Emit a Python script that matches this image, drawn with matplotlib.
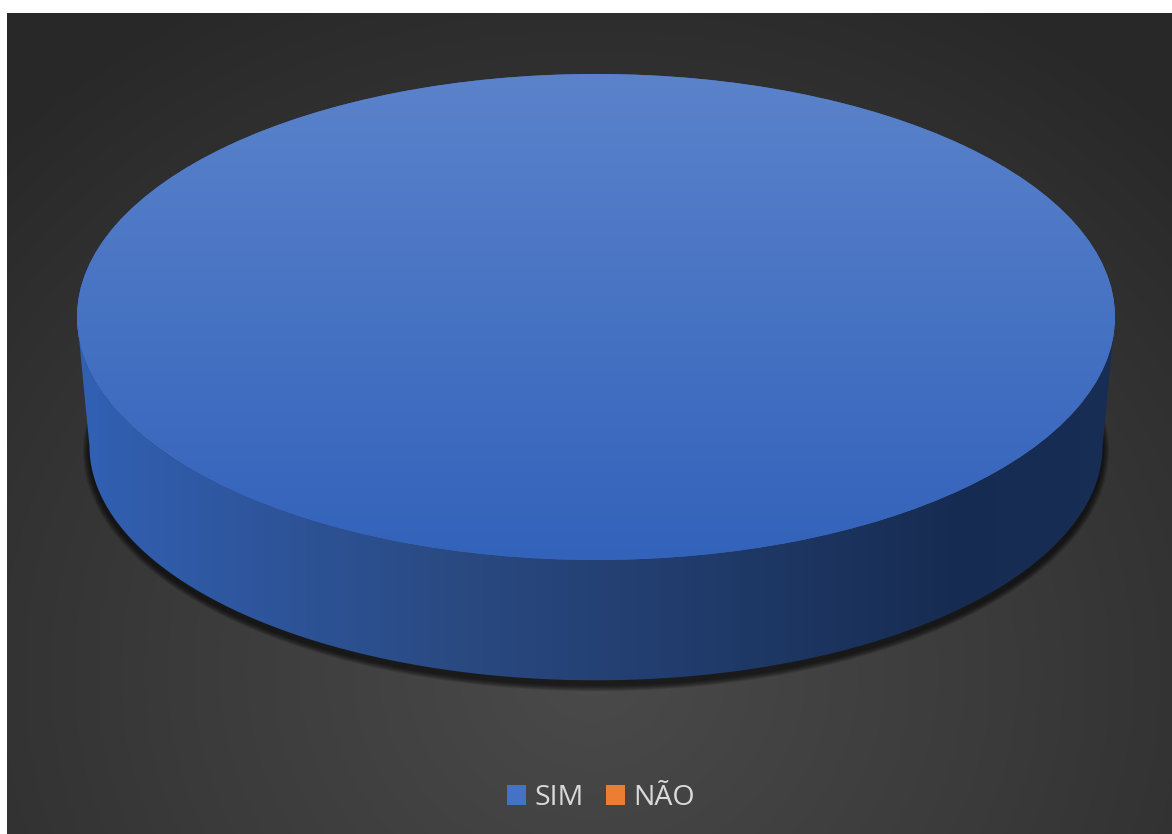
import numpy as np
import matplotlib.pyplot as plt
from matplotlib.colors import LinearSegmentedColormap, to_rgb
from matplotlib.patches import Polygon, Ellipse

categories = ['SIM', 'NÃO']
values = [100, 0]
colors = ['#4472c4', '#ed7d31']

W, H = 1172, 834
fig = plt.figure(figsize=(W / 100, H / 100), dpi=100, facecolor='white')

# dark radial background of the chart area
bg = fig.add_axes([7 / W, 0, 1 - 7 / W, 1 - 13 / H])
bg.set_axis_off()
yy, xx = np.mgrid[0:821, 0:1165]
rr = np.hypot(xx - 585, (yy - 660) * 1.1)
bg_cmap = LinearSegmentedColormap.from_list('bg', ['#4a4a4a', '#3a3a3a', '#282828'])
bg.imshow(rr, cmap=bg_cmap, vmin=0, vmax=850, aspect='auto', interpolation='bilinear')

# pie axes: unit circle maps onto top ellipse (centre 596,317 px; radii 519,243 px)
cx, cy, rx, ry = 596, 317, 519, 243
ax = fig.add_axes([0, 0, 1, 1])
ax.patch.set_alpha(0)
wedges, _ = ax.pie(values, colors=colors, startangle=90, counterclock=False,
                   radius=1, center=(0, 0))
ax.set_aspect('auto')
ax.set_axis_off()

# bottom rim of the cylinder (slightly narrower: perspective)
yb, rxb, ryb = -0.53, 0.976, 0.965

def mix(c, other, t):
    a = np.array(to_rgb(c))
    b = np.array(to_rgb(other))
    return tuple(a * (1 - t) + b * t)

# soft shadow under the cylinder
for i in range(8):
    k = (8 - i) / 8
    ax.add_patch(Ellipse((0, yb - 0.02), 2 * rxb + 0.025 * k, 2 * ryb + 0.05 * k,
                         facecolor='black', edgecolor='none', alpha=0.1, zorder=1))

for w, c in zip(wedges, colors):
    t1, t2 = w.theta1, w.theta2
    if abs(t2 - t1) < 1e-9:
        continue
    ang = np.radians(np.linspace(t1, t2, 720))
    front = ang[np.sin(ang) <= 0]
    if front.size > 1:
        top = np.column_stack([np.cos(front), np.sin(front)])
        bot = np.column_stack([rxb * np.cos(front[::-1]), yb + ryb * np.sin(front[::-1])])
        side = Polygon(np.vstack([top, bot]), closed=True, facecolor='none',
                       edgecolor='none', transform=ax.transData)
        ax.add_patch(side)
        side_cmap = LinearSegmentedColormap.from_list(
            'side', [(0, mix(c, '#0f3f95', 0.35)), (0.35, mix(c, '#0b1a35', 0.45)),
                     (0.6, mix(c, '#0b1a35', 0.62)), (0.85, mix(c, '#0b1a35', 0.8)),
                     (1, mix(c, '#0b1a35', 0.78))])
        grad = np.tile(np.linspace(0, 1, 400), (10, 1))
        im = ax.imshow(grad, cmap=side_cmap, extent=(-1, 1, yb - 1, 0.1),
                       aspect='auto', zorder=2, interpolation='bilinear')
        im.set_clip_path(side)
    top_cmap = LinearSegmentedColormap.from_list(
        'top', [mix(c, 'white', 0.12), mix(c, '#1f4fb0', 0.45)])
    grad = np.tile(np.linspace(0, 1, 400), (10, 1)).T
    im = ax.imshow(grad, cmap=top_cmap, extent=(-1, 1, -1, 1),
                   aspect='auto', zorder=3, interpolation='bilinear')
    im.set_clip_path(w)
    w.set_zorder(3)

ax.set_xlim((0 - cx) / rx, (W - cx) / rx)
ax.set_ylim((cy - H) / ry, cy / ry)

leg = ax.legend(wedges, categories, loc='center', bbox_to_anchor=(601 / W, 1 - 798 / H),
                bbox_transform=fig.transFigure, ncol=2, frameon=False,
                prop={'family': 'Open Sans', 'size': 20.5}, labelcolor='#d9d9d9',
                handlelength=0.65, handleheight=0.65, handletextpad=0.3,
                columnspacing=0.8, borderpad=0)

fig.savefig('out.png', dpi=100, facecolor='white')
